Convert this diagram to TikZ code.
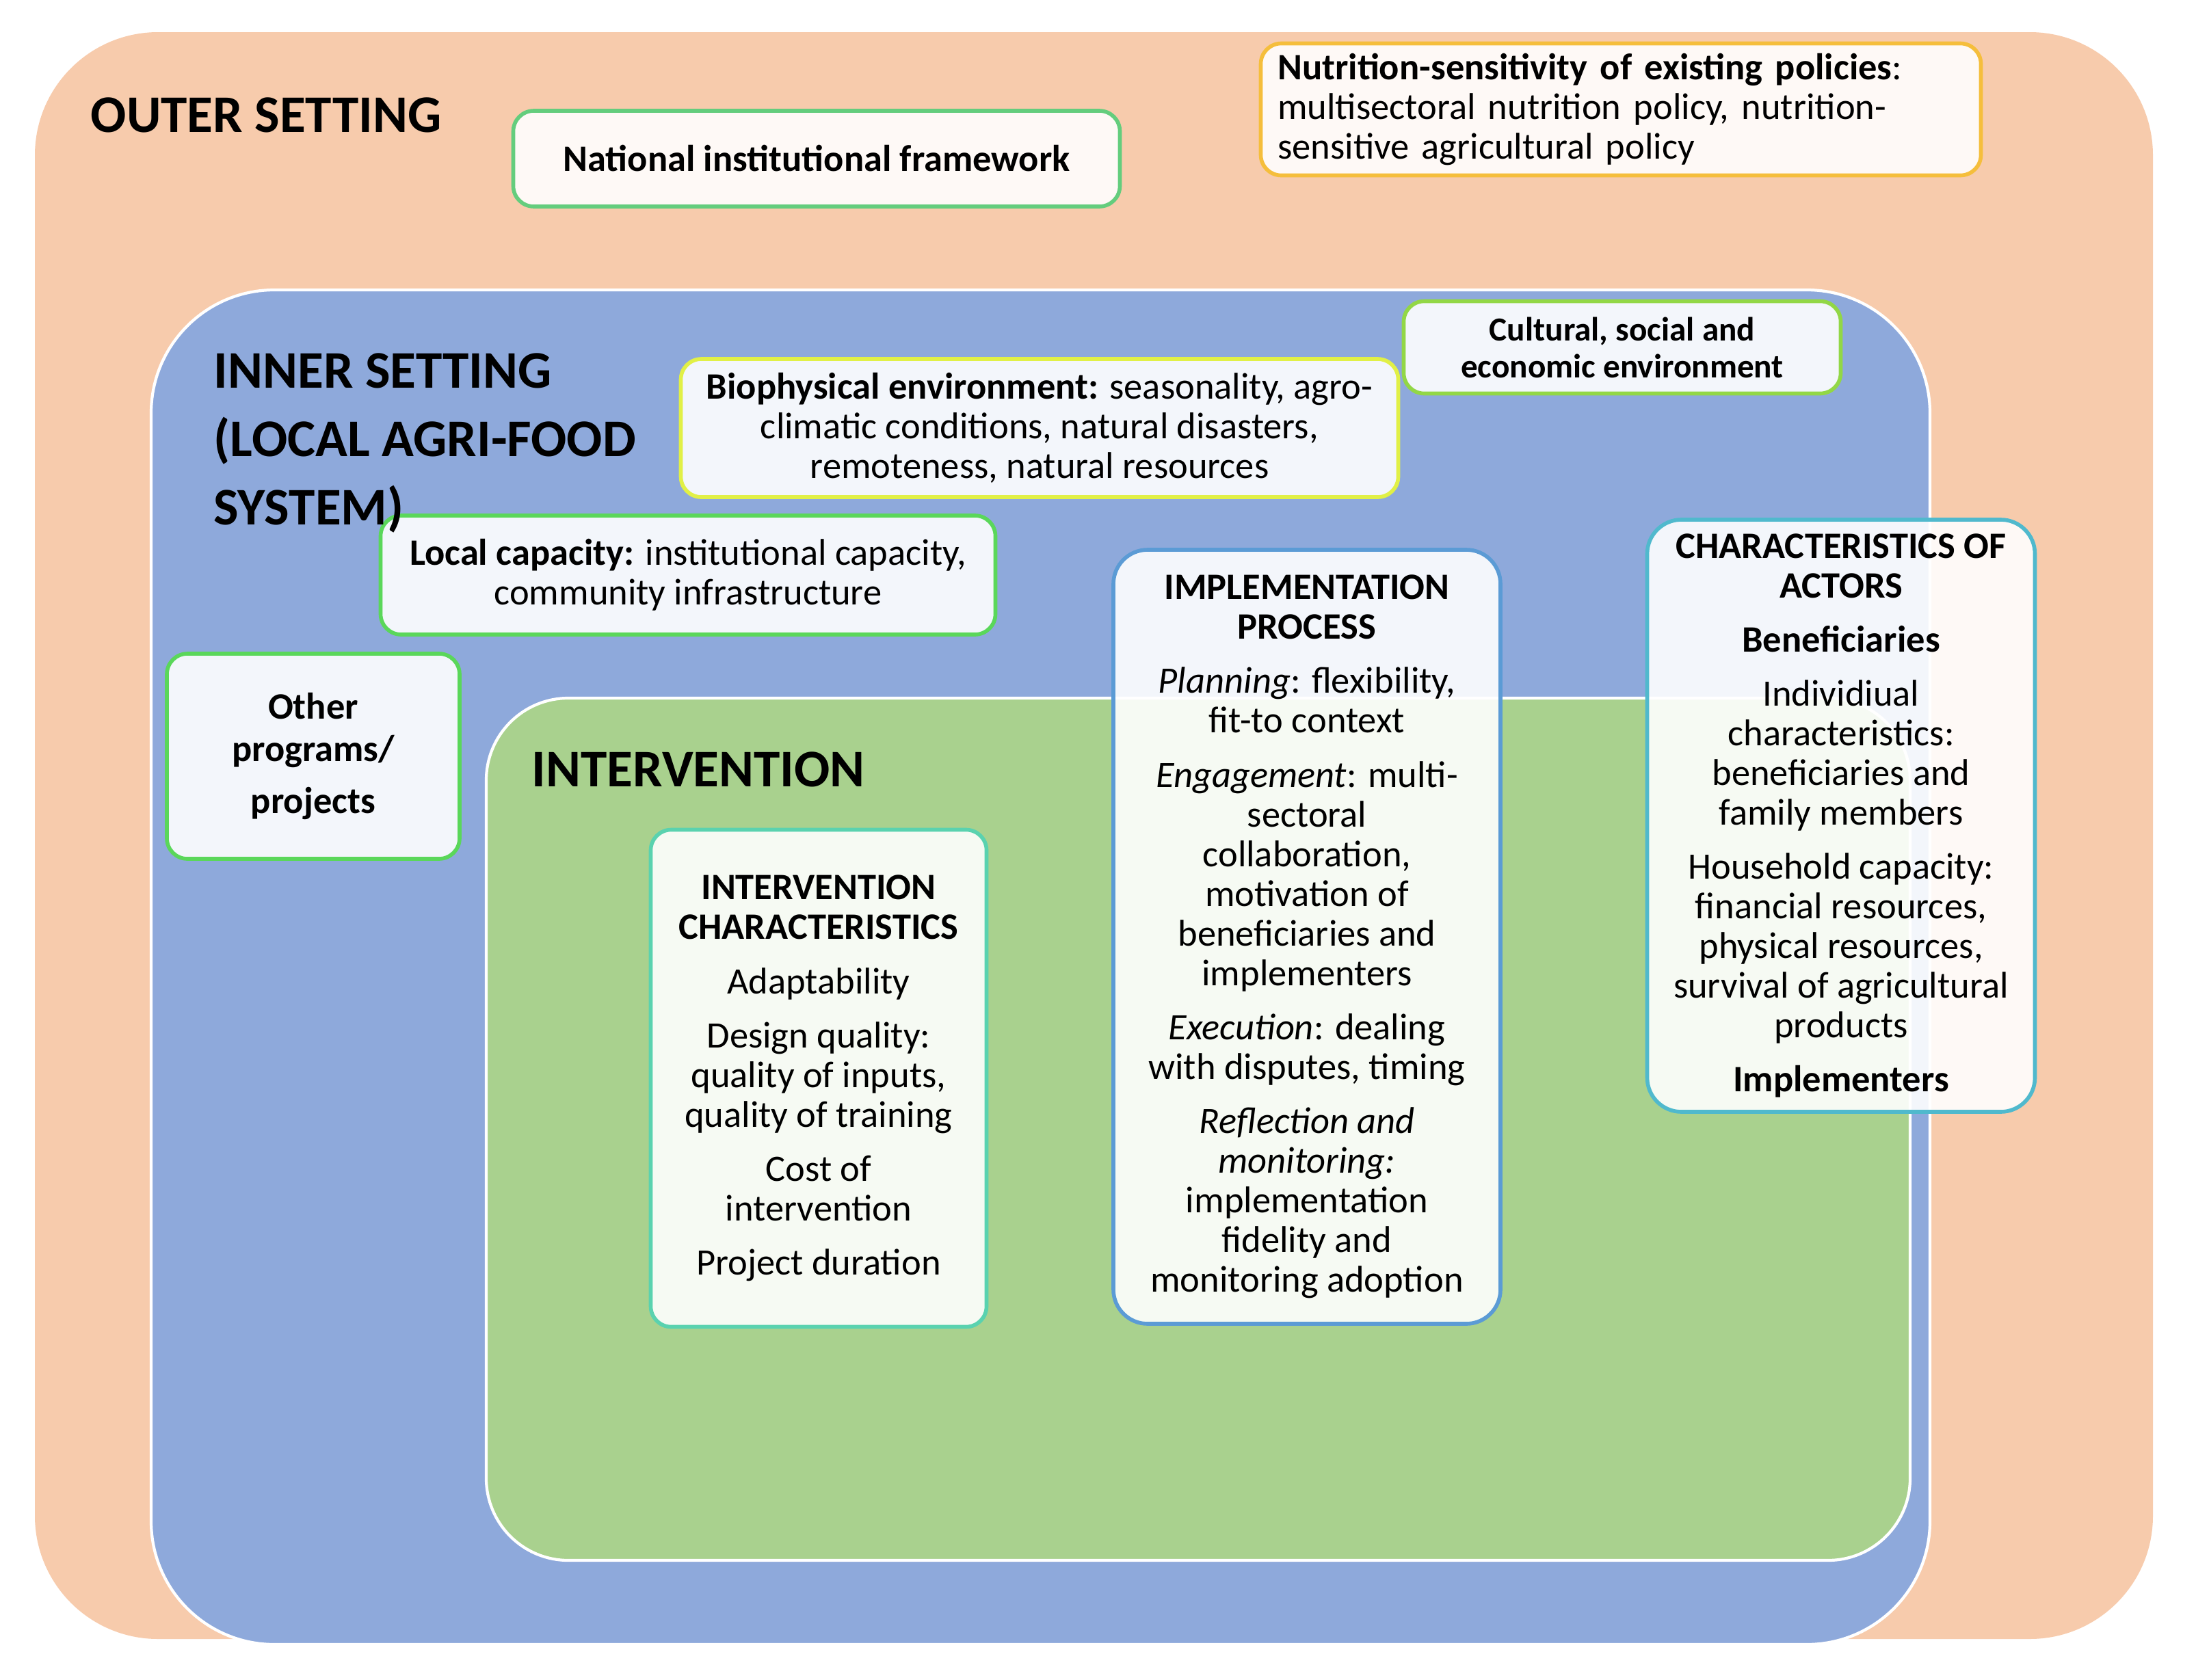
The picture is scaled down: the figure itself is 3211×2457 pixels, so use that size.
\documentclass[tikz,border=0pt]{standalone}
\usepackage{fontspec}
\setmainfont{Carlito}
\definecolor{outerc}{RGB}{247,203,172}
\definecolor{innerc}{RGB}{142,169,219}
\definecolor{intc}{RGB}{169,209,142}
\definecolor{cNat}{RGB}{100,205,125}
\definecolor{cPol}{RGB}{245,190,60}
\definecolor{cCul}{RGB}{146,215,70}
\definecolor{cBio}{RGB}{225,240,70}
\definecolor{cLoc}{RGB}{90,215,90}
\definecolor{cInt}{RGB}{90,210,175}
\definecolor{cImp}{RGB}{91,155,213}
\definecolor{cAct}{RGB}{80,185,205}
\begin{document}
\begin{tikzpicture}[x=0.01cm, y=-0.01cm, line join=round,
	sz/.style 2 args={minimum width=#1*0.01cm, minimum height=#2*0.01cm},
	box/.style={rounded corners=0.3cm, line width=1.6pt, fill=white, fill opacity=0.9, text opacity=1,
		align=center, inner sep=0pt, font=\fontsize{15.5}{16.5}\selectfont},
	title/.style={align=left, inner sep=0pt, font=\fontsize{22}{28.5}\selectfont\bfseries}]
	\useasboundingbox (0,0) rectangle (3211,2457);
	% settings
	\fill[outerc, rounded corners=1.8cm] (51,47) rectangle (3148,2397);
	\draw[white, line width=1.2pt, fill=innerc, rounded corners=1.8cm] (221,424) rectangle (2822,2405);
	\draw[white, line width=1.2pt, fill=intc, rounded corners=1.2cm] (711,1021) rectangle (2793,2282);
	\node[title, anchor=west] (outer) at (132,168) {OUTER SETTING};
	\node[title, anchor=west] (interv) at (777,1125) {INTERVENTION};
	% outer setting
	\node[box, draw=cNat, sz={887}{140}, font=\fontsize{15.5}{16.5}\selectfont\bfseries] (natfw) at (1194,232)
		{National institutional framework};
	\node[box, draw=cPol, sz={1053}{193}, align=left, text width=10.03cm] (policy) at (2370,160)
		{\textbf{Nutrition-sensitivity of existing policies}:\\multisectoral nutrition policy, nutrition-\\sensitive agricultural policy};
	% inner setting
	\node[box, draw=cCul, sz={639}{135}, font=\fontsize{14}{15.3}\selectfont\bfseries] (cultural) at (2372,508)
		{Cultural, social and\\economic environment};
	\node[box, draw=cBio, sz={1049}{202}] (biophys) at (1520,626)
		{\textbf{Biophysical environment:} seasonality, agro-\\climatic conditions, natural disasters,\\remoteness, natural resources};
	\node[box, draw=cLoc, sz={899}{174}] (localcap) at (1006,841)
		{\textbf{Local capacity:} institutional capacity,\\community infrastructure};
	\node[title, anchor=north west] (inner) at (312,516) {INNER SETTING\\(LOCAL AGRI-FOOD\\SYSTEM)};
	\node[box, draw=cLoc, sz={428}{300}, font=\fontsize{15.5}{17.5}\selectfont\bfseries] (others) at (458,1106)
		{Other\\programs/\\[4pt]projects};
	% intervention
	\node[box, draw=cInt, sz={491}{727}] (intchar) at (1197,1577)
		{\textbf{INTERVENTION}\\\textbf{CHARACTERISTICS}\\[6pt]Adaptability\\[6pt]Design quality:\\quality of inputs,\\quality of training\\[6pt]Cost of\\intervention\\[6pt]Project duration};
	\node[box, draw=cImp, rounded corners=0.5cm, sz={566}{1132}] (impl) at (1911,1370)
		{\textbf{IMPLEMENTATION}\\\textbf{PROCESS}\\[6pt]\textit{Planning}: flexibility,\\fit-to context\\[6pt]\textit{Engagement}: multi-\\sectoral\\collaboration,\\motivation of\\beneficiaries and\\implementers\\[6pt]\textit{Execution}: dealing\\with disputes, timing\\[6pt]\textit{Reflection and}\\\textit{monitoring:}\\implementation\\fidelity and\\monitoring adoption};
	\node[box, draw=cAct, rounded corners=0.5cm, sz={567}{866}] (actors) at (2692,1193)
		{\textbf{CHARACTERISTICS OF}\\\textbf{ACTORS}\\[6pt]\textbf{Beneficiaries}\\[6pt]Individiual\\characteristics:\\beneficiaries and\\family members\\[6pt]Household capacity:\\financial resources,\\physical resources,\\survival of agricultural\\products\\[6pt]\textbf{Implementers}};
\end{tikzpicture}
\end{document}
